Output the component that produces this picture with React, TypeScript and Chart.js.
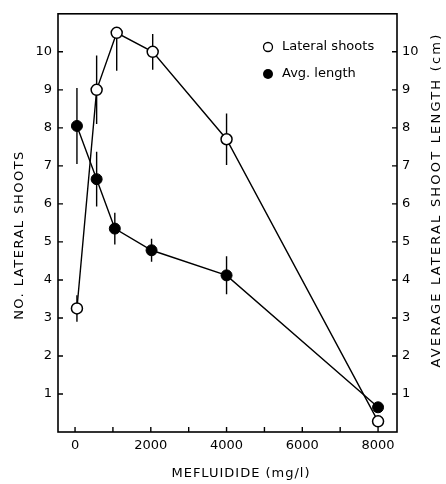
import React, { useEffect, useRef } from "react";
import { Chart, registerables } from "chart.js";

Chart.register(...registerables);

const concLateral = [50, 570, 1100, 2050, 4000, 8000];
const lateralShoots = [3.25, 9.0, 10.5, 10.0, 7.7, 0.28];
const lateralErrUp = [0.35, 0.9, 0.1, 0.47, 0.68, 0];
const lateralErrDown = [0.35, 0.9, 1.0, 0.47, 0.68, 0];

const concLength = [50, 570, 1050, 2020, 4000, 8000];
const avgLength = [8.05, 6.65, 5.35, 4.78, 4.12, 0.65];
const lengthErrUp = [1.0, 0.72, 0.42, 0.3, 0.5, 0];
const lengthErrDown = [1.0, 0.72, 0.42, 0.3, 0.5, 0];

const xTicks = [0, 1000, 2000, 3000, 4000, 5000, 6000, 7000, 8000];
const xTickLabels = ["0", "", "2000", "", "4000", "", "6000", "", "8000"];
const yTicks = [1, 2, 3, 4, 5, 6, 7, 8, 9, 10];

const FONT = "'DejaVu Sans', sans-serif";

const errorBars = {
  id: "errorBars",
  beforeDatasetsDraw(chart: any) {
    const { ctx, chartArea } = chart;
    const xs = chart.scales.x;
    const ys = chart.scales.y;
    ctx.save();
    ctx.beginPath();
    ctx.rect(chartArea.left, chartArea.top, chartArea.right - chartArea.left, chartArea.bottom - chartArea.top);
    ctx.clip();
    ctx.strokeStyle = "#000";
    ctx.lineWidth = 1.4;
    const draw = (xsv: number[], ysv: number[], up: number[], down: number[]) => {
      xsv.forEach((xv, i) => {
        if (!up[i] && !down[i]) return;
        const px = xs.getPixelForValue(xv);
        ctx.beginPath();
        ctx.moveTo(px, ys.getPixelForValue(ysv[i] + up[i]));
        ctx.lineTo(px, ys.getPixelForValue(ysv[i] - down[i]));
        ctx.stroke();
      });
    };
    draw(concLateral, lateralShoots, lateralErrUp, lateralErrDown);
    draw(concLength, avgLength, lengthErrUp, lengthErrDown);
    ctx.restore();
  },
  afterDraw(chart: any) {
    const { ctx, chartArea } = chart;
    const xs = chart.scales.x;
    const ys = chart.scales.y;
    const { left, right, top, bottom } = chartArea;
    ctx.save();
    ctx.strokeStyle = "#000";
    ctx.lineWidth = 1.6;
    ctx.strokeRect(left, top, right - left, bottom - top);
    ctx.lineWidth = 1.4;
    xTicks.forEach((v) => {
      const px = xs.getPixelForValue(v);
      ctx.beginPath();
      ctx.moveTo(px, bottom);
      ctx.lineTo(px, bottom - 5);
      ctx.stroke();
    });
    yTicks.forEach((v) => {
      const py = ys.getPixelForValue(v);
      ctx.beginPath();
      ctx.moveTo(left, py);
      ctx.lineTo(left + 5, py);
      ctx.moveTo(right, py);
      ctx.lineTo(right - 5, py);
      ctx.stroke();
    });

    // legend
    ctx.lineWidth = 1.3;
    ctx.beginPath();
    ctx.arc(268, 47, 4.5, 0, Math.PI * 2);
    ctx.fillStyle = "#fff";
    ctx.fill();
    ctx.stroke();
    ctx.fillStyle = "#000";
    ctx.beginPath();
    ctx.arc(268, 74, 5, 0, Math.PI * 2);
    ctx.fill();
    ctx.font = `13px ${FONT}`;
    ctx.textAlign = "left";
    ctx.textBaseline = "middle";
    ctx.fillText("Lateral shoots", 282, 47);
    ctx.fillText("Avg. length", 282, 74);

    // titles
    (ctx as any).letterSpacing = "1.5px";
    ctx.textAlign = "center";
    ctx.font = `13px ${FONT}`;
    ctx.save();
    ctx.translate(20, 235);
    ctx.rotate(-Math.PI / 2);
    ctx.fillText("NO. LATERAL SHOOTS", 0, 0);
    ctx.restore();
    (ctx as any).letterSpacing = "2.2px";
    ctx.save();
    ctx.translate(437, 200);
    ctx.rotate(-Math.PI / 2);
    ctx.fillText("AVERAGE LATERAL SHOOT LENGTH (cm)", 0, 0);
    ctx.restore();
    (ctx as any).letterSpacing = "1px";
    ctx.fillText("MEFLUIDIDE (mg/l)", 241, 474);
    ctx.restore();
  },
};

export default function App() {
  const ref = useRef<HTMLCanvasElement>(null);
  useEffect(() => {
    if (!ref.current) return;
    const chart = new Chart(ref.current, {
      type: "line",
      data: {
        datasets: [
          {
            label: "Lateral shoots",
            data: concLateral.map((x, i) => ({ x, y: lateralShoots[i] })),
            borderColor: "#000",
            borderWidth: 1.4,
            backgroundColor: "#fff",
            pointBackgroundColor: "#fff",
            pointBorderColor: "#000",
            pointBorderWidth: 1.5,
            pointRadius: 5.5,
            yAxisID: "y",
            order: 2,
          },
          {
            label: "Avg. length",
            data: concLength.map((x, i) => ({ x, y: avgLength[i] })),
            borderColor: "#000",
            borderWidth: 1.4,
            backgroundColor: "#000",
            pointBackgroundColor: "#000",
            pointBorderColor: "#000",
            pointBorderWidth: 1,
            pointRadius: 5.5,
            yAxisID: "y2",
            order: 1,
          },
        ],
      },
      options: {
        animation: false,
        responsive: false,
        events: [],
        layout: { padding: { top: 13, left: 0, right: 0, bottom: 0 } },
        plugins: { legend: { display: false }, tooltip: { enabled: false } },
        scales: {
          x: {
            type: "linear",
            min: -450,
            max: 8500,
            position: "bottom",
            afterBuildTicks: (s: any) => {
              s.ticks = xTicks.map((v) => ({ value: v }));
            },
            afterFit: (s: any) => {
              s.height = 52;
            },
            grid: { display: false, drawTicks: false },
            border: { display: false },
            ticks: {
              padding: 6,
              color: "#000",
              font: { family: FONT, size: 13 },
              maxRotation: 0,
              autoSkip: false,
              callback: (v: any, i: number) => xTickLabels[i],
            },
          },
          y: {
            min: 0,
            max: 11,
            position: "left",
            afterFit: (s: any) => {
              s.width = 58;
            },
            grid: { display: false, drawTicks: false },
            border: { display: false },
            ticks: {
              stepSize: 1,
              padding: 6,
              color: "#000",
              font: { family: FONT, size: 13 },
              callback: (v: any) => (Number(v) >= 1 && Number(v) <= 10 ? String(v) : ""),
            },
          },
          y2: {
            min: 0,
            max: 11,
            position: "right",
            afterFit: (s: any) => {
              s.width = 49;
            },
            grid: { display: false, drawTicks: false },
            border: { display: false },
            ticks: {
              stepSize: 1,
              padding: 5,
              color: "#000",
              font: { family: FONT, size: 13 },
              callback: (v: any) => (Number(v) >= 1 && Number(v) <= 10 ? String(v) : ""),
            },
          },
        },
      },
      plugins: [errorBars],
    } as any);
    return () => chart.destroy();
  }, []);
  return (
    <div style={{ position: "absolute", left: 0, top: 0, width: 446, height: 484, background: "#fff" }}>
      <canvas ref={ref} width={446} height={484} style={{ display: "block" }} />
    </div>
  );
}
